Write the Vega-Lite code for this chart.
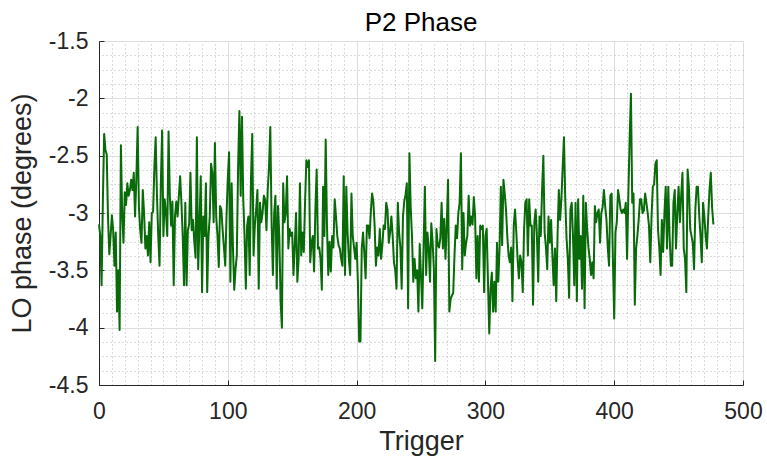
{
  "$schema": "https://vega.github.io/schema/vega-lite/v6.json",
  "autosize": "none",
  "width": 644,
  "height": 344,
  "padding": {"left": 99, "top": 41, "right": 24, "bottom": 74},
  "background": "white",
  "config": {"view": {"stroke": null}, "font": "Liberation Sans"},
  "title": {"text": "P2 Phase", "fontSize": 26, "fontWeight": "normal", "color": "#000000", "font": "Liberation Sans", "offset": -6, "anchor": "middle", "frame": "group"},
  "datasets": {
    "d": [
{"t":0,"v":-3.10},{"t":1,"v":-3.20},{"t":2,"v":-3.63},{"t":3,"v":-2.90},{"t":4,"v":-2.31},{"t":5,"v":-2.45},{"t":6,"v":-2.49},{"t":7,"v":-3.04},{"t":8,"v":-3.36},{"t":9,"v":-3.20},
{"t":10,"v":-3.02},{"t":11,"v":-3.15},{"t":12,"v":-3.46},{"t":13,"v":-3.17},{"t":14,"v":-3.86},{"t":15,"v":-3.50},{"t":16,"v":-4.02},{"t":17,"v":-2.41},{"t":18,"v":-3.00},{"t":19,"v":-3.26},
{"t":20,"v":-2.82},{"t":21,"v":-2.93},{"t":22,"v":-2.74},{"t":23,"v":-2.85},{"t":24,"v":-2.80},{"t":25,"v":-2.71},{"t":26,"v":-2.80},{"t":27,"v":-2.65},{"t":28,"v":-3.03},{"t":29,"v":-2.70},
{"t":30,"v":-2.25},{"t":31,"v":-2.95},{"t":32,"v":-3.15},{"t":33,"v":-3.26},{"t":34,"v":-2.80},{"t":35,"v":-3.00},{"t":36,"v":-3.31},{"t":37,"v":-3.20},{"t":38,"v":-3.37},{"t":39,"v":-3.08},
{"t":40,"v":-3.43},{"t":41,"v":-3.00},{"t":42,"v":-2.99},{"t":43,"v":-2.60},{"t":44,"v":-2.34},{"t":45,"v":-2.85},{"t":46,"v":-3.20},{"t":47,"v":-3.46},{"t":48,"v":-2.75},{"t":49,"v":-2.28},
{"t":50,"v":-3.20},{"t":51,"v":-2.88},{"t":52,"v":-3.00},{"t":53,"v":-3.20},{"t":54,"v":-2.29},{"t":55,"v":-2.85},{"t":56,"v":-3.11},{"t":57,"v":-2.90},{"t":58,"v":-3.63},{"t":59,"v":-3.03},
{"t":60,"v":-2.90},{"t":61,"v":-3.03},{"t":62,"v":-2.85},{"t":63,"v":-2.68},{"t":64,"v":-2.91},{"t":65,"v":-3.20},{"t":66,"v":-3.63},{"t":67,"v":-2.91},{"t":68,"v":-3.63},{"t":69,"v":-3.15},
{"t":70,"v":-3.10},{"t":71,"v":-2.65},{"t":72,"v":-3.15},{"t":73,"v":-3.06},{"t":74,"v":-3.25},{"t":75,"v":-3.39},{"t":76,"v":-2.34},{"t":77,"v":-3.49},{"t":78,"v":-3.10},{"t":79,"v":-2.68},
{"t":80,"v":-3.69},{"t":81,"v":-3.03},{"t":82,"v":-3.20},{"t":83,"v":-2.74},{"t":84,"v":-3.69},{"t":85,"v":-3.20},{"t":86,"v":-3.03},{"t":87,"v":-2.57},{"t":88,"v":-2.65},{"t":89,"v":-3.08},
{"t":90,"v":-2.39},{"t":91,"v":-3.03},{"t":92,"v":-3.20},{"t":93,"v":-3.47},{"t":94,"v":-2.94},{"t":95,"v":-2.97},{"t":96,"v":-3.15},{"t":97,"v":-3.30},{"t":98,"v":-3.46},{"t":99,"v":-3.03},
{"t":100,"v":-2.70},{"t":101,"v":-2.47},{"t":102,"v":-3.60},{"t":103,"v":-2.74},{"t":104,"v":-3.30},{"t":105,"v":-3.67},{"t":106,"v":-3.49},{"t":107,"v":-3.37},{"t":108,"v":-2.60},{"t":109,"v":-2.11},
{"t":110,"v":-2.85},{"t":111,"v":-2.16},{"t":112,"v":-2.88},{"t":113,"v":-3.20},{"t":114,"v":-3.66},{"t":115,"v":-3.11},{"t":116,"v":-3.03},{"t":117,"v":-3.54},{"t":118,"v":-2.70},{"t":119,"v":-2.31},
{"t":120,"v":-3.37},{"t":121,"v":-3.11},{"t":122,"v":-2.97},{"t":123,"v":-2.80},{"t":124,"v":-3.66},{"t":125,"v":-2.91},{"t":126,"v":-3.08},{"t":127,"v":-3.00},{"t":128,"v":-2.85},{"t":129,"v":-2.88},
{"t":130,"v":-3.15},{"t":131,"v":-2.80},{"t":132,"v":-2.60},{"t":133,"v":-2.25},{"t":134,"v":-3.08},{"t":135,"v":-3.54},{"t":136,"v":-3.00},{"t":137,"v":-2.85},{"t":138,"v":-3.66},{"t":139,"v":-2.94},
{"t":140,"v":-3.20},{"t":141,"v":-3.77},{"t":142,"v":-4.00},{"t":143,"v":-2.74},{"t":144,"v":-3.08},{"t":145,"v":-3.00},{"t":146,"v":-2.68},{"t":147,"v":-3.31},{"t":148,"v":-3.14},{"t":149,"v":-3.20},
{"t":150,"v":-3.17},{"t":151,"v":-3.54},{"t":152,"v":-3.28},{"t":153,"v":-3.00},{"t":154,"v":-3.60},{"t":155,"v":-3.40},{"t":156,"v":-2.74},{"t":157,"v":-3.37},{"t":158,"v":-3.17},{"t":159,"v":-3.34},
{"t":160,"v":-2.90},{"t":161,"v":-2.54},{"t":162,"v":-2.60},{"t":163,"v":-2.54},{"t":164,"v":-3.43},{"t":165,"v":-3.26},{"t":166,"v":-3.20},{"t":167,"v":-3.51},{"t":168,"v":-2.97},{"t":169,"v":-2.62},
{"t":170,"v":-3.31},{"t":171,"v":-3.30},{"t":172,"v":-3.40},{"t":173,"v":-3.67},{"t":174,"v":-2.77},{"t":175,"v":-3.20},{"t":176,"v":-2.36},{"t":177,"v":-3.11},{"t":178,"v":-3.54},{"t":179,"v":-3.25},
{"t":180,"v":-3.51},{"t":181,"v":-3.20},{"t":182,"v":-3.30},{"t":183,"v":-2.88},{"t":184,"v":-3.03},{"t":185,"v":-3.20},{"t":186,"v":-3.28},{"t":187,"v":-3.31},{"t":188,"v":-3.40},{"t":189,"v":-3.46},
{"t":190,"v":-2.68},{"t":191,"v":-3.54},{"t":192,"v":-2.77},{"t":193,"v":-3.17},{"t":194,"v":-3.40},{"t":195,"v":-3.54},{"t":196,"v":-2.83},{"t":197,"v":-3.20},{"t":198,"v":-3.30},{"t":199,"v":-3.40},
{"t":200,"v":-3.26},{"t":201,"v":-3.60},{"t":202,"v":-4.12},{"t":203,"v":-4.12},{"t":204,"v":-3.31},{"t":205,"v":-3.17},{"t":206,"v":-3.35},{"t":207,"v":-3.57},{"t":208,"v":-3.11},{"t":209,"v":-3.11},
{"t":210,"v":-3.22},{"t":211,"v":-3.00},{"t":212,"v":-2.83},{"t":213,"v":-2.90},{"t":214,"v":-3.11},{"t":215,"v":-3.46},{"t":216,"v":-3.30},{"t":217,"v":-3.37},{"t":218,"v":-3.14},{"t":219,"v":-3.40},
{"t":220,"v":-3.28},{"t":221,"v":-3.11},{"t":222,"v":-3.14},{"t":223,"v":-2.91},{"t":224,"v":-2.97},{"t":225,"v":-3.26},{"t":226,"v":-3.17},{"t":227,"v":-3.03},{"t":228,"v":-3.20},{"t":229,"v":-3.43},
{"t":230,"v":-3.50},{"t":231,"v":-3.66},{"t":232,"v":-2.91},{"t":233,"v":-3.17},{"t":234,"v":-3.30},{"t":235,"v":-3.66},{"t":236,"v":-3.03},{"t":237,"v":-2.90},{"t":238,"v":-2.84},{"t":239,"v":-2.74},
{"t":240,"v":-3.83},{"t":241,"v":-2.48},{"t":242,"v":-2.95},{"t":243,"v":-3.20},{"t":244,"v":-3.60},{"t":245,"v":-3.40},{"t":246,"v":-3.57},{"t":247,"v":-3.50},{"t":248,"v":-3.86},{"t":249,"v":-3.27},
{"t":250,"v":-3.55},{"t":251,"v":-3.83},{"t":252,"v":-3.30},{"t":253,"v":-2.77},{"t":254,"v":-3.54},{"t":255,"v":-3.17},{"t":256,"v":-3.30},{"t":257,"v":-3.60},{"t":258,"v":-3.09},{"t":259,"v":-3.25},
{"t":260,"v":-3.49},{"t":261,"v":-4.29},{"t":262,"v":-3.14},{"t":263,"v":-3.28},{"t":264,"v":-3.30},{"t":265,"v":-3.22},{"t":266,"v":-2.91},{"t":267,"v":-3.31},{"t":268,"v":-3.05},{"t":269,"v":-3.40},
{"t":270,"v":-3.10},{"t":271,"v":-2.71},{"t":272,"v":-3.86},{"t":273,"v":-3.75},{"t":274,"v":-3.72},{"t":275,"v":-3.70},{"t":276,"v":-3.37},{"t":277,"v":-3.11},{"t":278,"v":-3.22},{"t":279,"v":-3.00},
{"t":280,"v":-2.91},{"t":281,"v":-2.48},{"t":282,"v":-3.49},{"t":283,"v":-3.00},{"t":284,"v":-3.37},{"t":285,"v":-3.26},{"t":286,"v":-3.20},{"t":287,"v":-2.85},{"t":288,"v":-3.11},{"t":289,"v":-3.03},
{"t":290,"v":-3.10},{"t":291,"v":-2.86},{"t":292,"v":-3.03},{"t":293,"v":-3.57},{"t":294,"v":-3.20},{"t":295,"v":-3.60},{"t":296,"v":-3.11},{"t":297,"v":-3.14},{"t":298,"v":-3.11},{"t":299,"v":-3.69},
{"t":300,"v":-3.20},{"t":301,"v":-3.14},{"t":302,"v":-3.60},{"t":303,"v":-4.05},{"t":304,"v":-3.66},{"t":305,"v":-3.52},{"t":306,"v":-3.86},{"t":307,"v":-3.60},{"t":308,"v":-3.86},{"t":309,"v":-3.26},
{"t":310,"v":-3.60},{"t":311,"v":-3.31},{"t":312,"v":-2.77},{"t":313,"v":-3.28},{"t":314,"v":-2.71},{"t":315,"v":-2.83},{"t":316,"v":-2.97},{"t":317,"v":-3.20},{"t":318,"v":-3.37},{"t":319,"v":-3.43},
{"t":320,"v":-3.30},{"t":321,"v":-3.77},{"t":322,"v":-3.11},{"t":323,"v":-2.97},{"t":324,"v":-3.17},{"t":325,"v":-3.40},{"t":326,"v":-3.57},{"t":327,"v":-3.37},{"t":328,"v":-3.43},{"t":329,"v":-3.69},
{"t":330,"v":-3.15},{"t":331,"v":-2.91},{"t":332,"v":-2.88},{"t":333,"v":-3.37},{"t":334,"v":-2.88},{"t":335,"v":-3.11},{"t":336,"v":-3.11},{"t":337,"v":-3.80},{"t":338,"v":-3.08},{"t":339,"v":-2.97},
{"t":340,"v":-3.20},{"t":341,"v":-3.60},{"t":342,"v":-3.03},{"t":343,"v":-3.20},{"t":344,"v":-2.80},{"t":345,"v":-2.50},{"t":346,"v":-3.17},{"t":347,"v":-3.30},{"t":348,"v":-3.49},{"t":349,"v":-3.03},
{"t":350,"v":-3.26},{"t":351,"v":-3.06},{"t":352,"v":-3.37},{"t":353,"v":-3.63},{"t":354,"v":-3.31},{"t":355,"v":-3.77},{"t":356,"v":-3.20},{"t":357,"v":-2.80},{"t":358,"v":-3.06},{"t":359,"v":-2.88},
{"t":360,"v":-2.60},{"t":361,"v":-2.34},{"t":362,"v":-2.88},{"t":363,"v":-3.22},{"t":364,"v":-3.40},{"t":365,"v":-3.74},{"t":366,"v":-2.97},{"t":367,"v":-2.91},{"t":368,"v":-3.20},{"t":369,"v":-3.63},
{"t":370,"v":-2.91},{"t":371,"v":-3.77},{"t":372,"v":-2.88},{"t":373,"v":-3.40},{"t":374,"v":-3.20},{"t":375,"v":-3.66},{"t":376,"v":-2.85},{"t":377,"v":-3.83},{"t":378,"v":-2.91},{"t":379,"v":-3.14},
{"t":380,"v":-3.30},{"t":381,"v":-3.40},{"t":382,"v":-3.54},{"t":383,"v":-3.43},{"t":384,"v":-3.57},{"t":385,"v":-2.94},{"t":386,"v":-3.08},{"t":387,"v":-3.00},{"t":388,"v":-2.97},{"t":389,"v":-3.26},
{"t":390,"v":-3.00},{"t":391,"v":-2.95},{"t":392,"v":-2.80},{"t":393,"v":-2.94},{"t":394,"v":-3.06},{"t":395,"v":-3.30},{"t":396,"v":-3.46},{"t":397,"v":-2.85},{"t":398,"v":-2.83},{"t":399,"v":-3.40},
{"t":400,"v":-3.92},{"t":401,"v":-3.17},{"t":402,"v":-3.08},{"t":403,"v":-2.80},{"t":404,"v":-2.88},{"t":405,"v":-2.97},{"t":406,"v":-3.00},{"t":407,"v":-2.97},{"t":408,"v":-3.00},{"t":409,"v":-2.91},
{"t":410,"v":-3.40},{"t":411,"v":-2.83},{"t":412,"v":-2.35},{"t":413,"v":-1.96},{"t":414,"v":-2.91},{"t":415,"v":-2.83},{"t":416,"v":-3.80},{"t":417,"v":-3.31},{"t":418,"v":-3.20},{"t":419,"v":-3.06},
{"t":420,"v":-2.88},{"t":421,"v":-2.88},{"t":422,"v":-3.00},{"t":423,"v":-2.98},{"t":424,"v":-2.83},{"t":425,"v":-2.91},{"t":426,"v":-3.00},{"t":427,"v":-3.11},{"t":428,"v":-3.43},{"t":429,"v":-3.03},
{"t":430,"v":-2.77},{"t":431,"v":-2.75},{"t":432,"v":-2.57},{"t":433,"v":-2.54},{"t":434,"v":-3.14},{"t":435,"v":-3.30},{"t":436,"v":-3.54},{"t":437,"v":-3.06},{"t":438,"v":-3.34},{"t":439,"v":-3.00},
{"t":440,"v":-2.77},{"t":441,"v":-3.31},{"t":442,"v":-2.77},{"t":443,"v":-3.20},{"t":444,"v":-3.46},{"t":445,"v":-3.46},{"t":446,"v":-2.91},{"t":447,"v":-2.80},{"t":448,"v":-3.31},{"t":449,"v":-3.00},
{"t":450,"v":-2.77},{"t":451,"v":-3.08},{"t":452,"v":-2.85},{"t":453,"v":-2.65},{"t":454,"v":-3.31},{"t":455,"v":-3.40},{"t":456,"v":-3.69},{"t":457,"v":-2.62},{"t":458,"v":-2.77},{"t":459,"v":-3.14},
{"t":460,"v":-3.20},{"t":461,"v":-3.26},{"t":462,"v":-3.49},{"t":463,"v":-2.97},{"t":464,"v":-2.77},{"t":465,"v":-2.77},{"t":466,"v":-3.02},{"t":467,"v":-3.20},{"t":468,"v":-3.43},{"t":469,"v":-2.91},
{"t":470,"v":-3.03},{"t":471,"v":-3.20},{"t":472,"v":-3.31},{"t":473,"v":-3.03},{"t":474,"v":-2.80},{"t":475,"v":-2.65},{"t":476,"v":-2.95},{"t":477,"v":-3.10}
    ]
  },
  "data": {"name": "d"},
  "resolve": {"axis": {"x": "independent", "y": "independent"}},
  "layer": [
    {
      "mark": {"type": "line", "opacity": 0},
      "encoding": {
        "x": {"field": "t", "type": "quantitative", "scale": {"domain": [0, 500], "nice": false, "zero": false},
          "axis": {"orient": "top", "values": [10,20,30,40,50,60,70,80,90,110,120,130,140,150,160,170,180,190,210,220,230,240,250,260,270,280,290,310,320,330,340,350,360,370,380,390,410,420,430,440,450,460,470,480,490],
            "grid": true, "gridDash": [1, 3], "gridColor": "#b8b8b8", "gridWidth": 1, "labels": false, "ticks": false, "domain": false, "title": null,
            "minExtent": 0, "maxExtent": 0, "offset": 0, "labelPadding": 0, "titlePadding": 0}},
        "y": {"field": "v", "type": "quantitative", "scale": {"domain": [-4.5, -1.5], "nice": false, "zero": false},
          "axis": {"orient": "right", "values": [-4.375,-4.25,-4.125,-3.875,-3.75,-3.625,-3.375,-3.25,-3.125,-2.875,-2.75,-2.625,-2.375,-2.25,-2.125,-1.875,-1.75,-1.625],
            "grid": true, "gridDash": [1, 3], "gridColor": "#b8b8b8", "gridWidth": 1, "labels": false, "ticks": false, "domain": false, "title": null,
            "minExtent": 0, "maxExtent": 0, "offset": 0, "labelPadding": 0, "titlePadding": 0}}
      }
    },
    {
      "mark": {"type": "line", "color": "#086a08", "strokeWidth": 2, "strokeJoin": "round"},
      "encoding": {
        "x": {"field": "t", "type": "quantitative", "scale": {"domain": [0, 500], "nice": false, "zero": false},
          "axis": {"orient": "bottom", "values": [0,100,200,300,400,500], "labelExpr": "'' + datum.value", "labelFlush": false, "grid": true, "gridColor": "#dedede", "gridWidth": 1,
            "domainColor": "#262626", "domainWidth": 1, "tickColor": "#262626", "tickSize": -5, "labelPadding": 20,
            "labelFont": "Liberation Sans", "labelFontSize": 23, "labelColor": "#262626",
            "title": "Trigger", "titleFont": "Liberation Sans", "titleFontSize": 27, "titleFontWeight": "normal", "titleColor": "#262626", "titlePadding": 5}},
        "y": {"field": "v", "type": "quantitative", "scale": {"domain": [-4.5, -1.5], "nice": false, "zero": false},
          "axis": {"orient": "left", "values": [-4.5,-4,-3.5,-3,-2.5,-2,-1.5], "labelExpr": "'' + datum.value", "labelFlush": false, "grid": true, "gridColor": "#dedede", "gridWidth": 1,
            "domainColor": "#262626", "domainWidth": 1, "tickColor": "#262626", "tickSize": -5, "labelPadding": 16,
            "labelFont": "Liberation Sans", "labelFontSize": 23, "labelColor": "#262626",
            "title": "LO phase (degrees)", "titleFont": "Liberation Sans", "titleFontSize": 27, "titleFontWeight": "normal", "titleColor": "#262626", "titlePadding": 12}}
      }
    }
  ]
}
